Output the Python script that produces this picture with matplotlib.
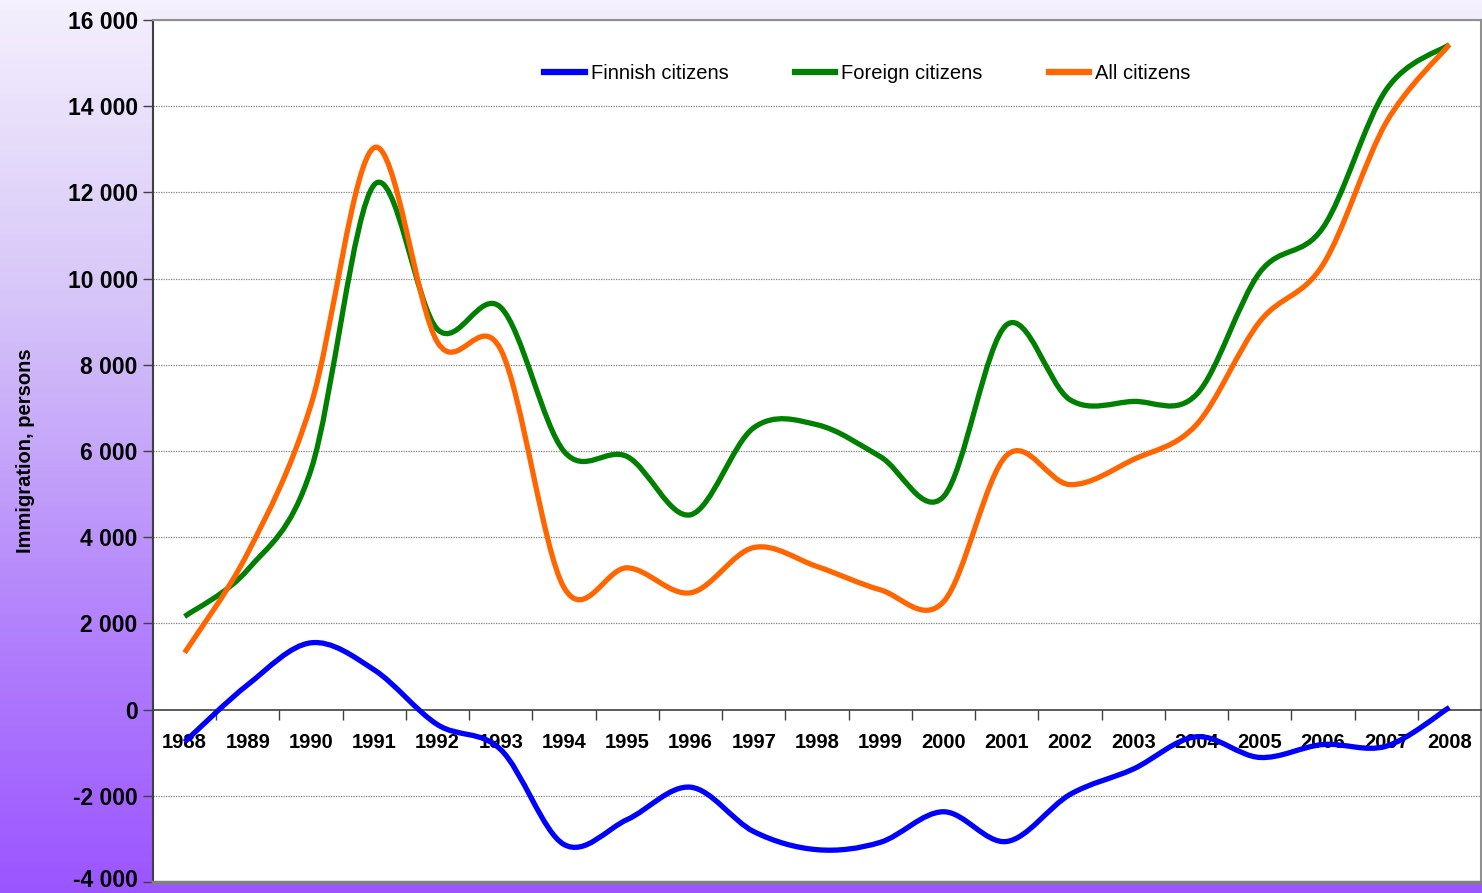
import numpy as np
import matplotlib
matplotlib.use("Agg")
import matplotlib.pyplot as plt
import matplotlib.transforms as mtransforms
from matplotlib.path import Path
from matplotlib.patches import PathPatch
from matplotlib.lines import Line2D
from matplotlib.ticker import FuncFormatter, FixedLocator
from matplotlib.colors import LinearSegmentedColormap

plt.rcParams['font.family'] = ['Liberation Sans', 'DejaVu Sans']

years = [str(y) for y in range(1988, 2009)]
finnish = [-750, 580, 1550, 920, -350, -930, -3130, -2550, -1800, -2830, -3250,
           -3080, -2370, -3060, -1970, -1380, -630, -1110, -810, -850, 50]
foreign = [2160, 3250, 5570, 12180, 8820, 9330, 5990, 5870, 4520, 6540, 6610,
           5870, 4940, 8930, 7190, 7150, 7310, 10140, 11180, 14380, 15430]
all_cit = [1320, 3640, 7080, 13040, 8520, 8350, 2830, 3290, 2710, 3760, 3320,
           2780, 2500, 5900, 5220, 5800, 6610, 9000, 10320, 13620, 15430]

series = [("Finnish citizens", finnish, "#0000FF"),
          ("Foreign citizens", foreign, "#008000"),
          ("All citizens", all_cit, "#FF6600")]


def smooth_path(xs, ys):
    # Excel-style smoothed line: cubic bezier segments (Catmull-Rom control points)
    pts = np.column_stack([xs, ys]).astype(float)
    n = len(pts)
    verts = [pts[0]]
    codes = [Path.MOVETO]
    for i in range(n - 1):
        p0 = pts[max(i - 1, 0)]
        p1 = pts[i]
        p2 = pts[i + 1]
        p3 = pts[min(i + 2, n - 1)]
        c1 = p1 + (p2 - p0) / 6.0
        c2 = p2 - (p3 - p1) / 6.0
        verts += [c1, c2, p2]
        codes += [Path.CURVE4] * 3
    return Path(verts, codes)


fig = plt.figure(figsize=(14.82, 8.93), dpi=100)

# gradient background
bg = fig.add_axes([0, 0, 1, 1], zorder=-10)
cmap = LinearSegmentedColormap.from_list("bgpurple", ["#F4F0FD", "#D6C6F8", "#B587FB", "#9B55FF"])
grad = np.linspace(0, 1, 256).reshape(-1, 1)
bg.imshow(grad, aspect="auto", cmap=cmap, extent=[0, 1, 0, 1], origin="upper")
bg.axis("off")

ax = fig.add_axes([153 / 1482, 11 / 893, 1328 / 1482, 862 / 893])
ax.set_facecolor("white")
x = np.arange(len(years))
ax.set_xlim(-0.5, len(years) - 0.5)
ax.set_ylim(-4000, 16000)

for label, vals, col in series:
    patch = PathPatch(smooth_path(x, vals), facecolor="none", edgecolor=col,
                      lw=3.8, capstyle="butt", joinstyle="round", zorder=5)
    ax.add_patch(patch)

# y axis
ax.set_yticks(np.arange(-4000, 16001, 2000))
ax.yaxis.set_major_formatter(FuncFormatter(lambda v, p: f"{int(v):,}".replace(",", " ")))
ax.tick_params(axis="y", length=7, width=1, color="#404040", labelsize=16.5, pad=4)
ylabs = ax.get_yticklabels()
for lab in ylabs:
    lab.set_fontweight("bold")
# nudge the lowest label up a little so it stays inside the figure
ylabs[0].set_transform(ylabs[0].get_transform() +
                       mtransforms.ScaledTranslation(0, 3 / 72, fig.dpi_scale_trans))
for v in np.arange(-2000, 16001, 2000):
    if v != 0:
        ax.axhline(v, color="#808080", lw=0.9, ls=(0, (1, 1)), zorder=1)
ax.set_ylabel("Immigration, persons", fontsize=14.5, fontweight="bold")
ax.yaxis.set_label_coords(-0.089, 0.5)

# x axis on the zero line
ax.spines["bottom"].set_position(("data", 0))
ax.spines["bottom"].set_color("#404040")
ax.spines["bottom"].set_linewidth(1.2)
ax.set_xticks(x)
ax.set_xticklabels(years)
ax.xaxis.set_minor_locator(FixedLocator(np.arange(0.5, len(years) - 1, 1.0)))
ax.tick_params(axis="x", which="major", length=0, labelsize=14.5, pad=17)
ax.tick_params(axis="x", which="minor", length=7, width=1, color="#404040")
for lab in ax.get_xticklabels():
    lab.set_fontweight("bold")
    lab.set_zorder(10)

ax.spines["left"].set_color("#404040")
ax.spines["left"].set_linewidth(1.5)
ax.spines["top"].set_color("#909090")
ax.spines["top"].set_linewidth(1.5)
ax.spines["right"].set_color("#909090")
ax.spines["right"].set_linewidth(1.5)
ax.axhline(-4000, color="#808080", lw=2.5, zorder=6, clip_on=False)

handles = [Line2D([0], [0], color=c, lw=4.5) for _, _, c in series]
labels = [s[0] for s in series]
leg = ax.legend(handles, labels, loc="center", bbox_to_anchor=(0.538, 0.938), ncol=3,
                frameon=False, fontsize=14.5, handlelength=2.0, handletextpad=0.3,
                columnspacing=3.3)

fig.savefig("out.png", dpi=100)
